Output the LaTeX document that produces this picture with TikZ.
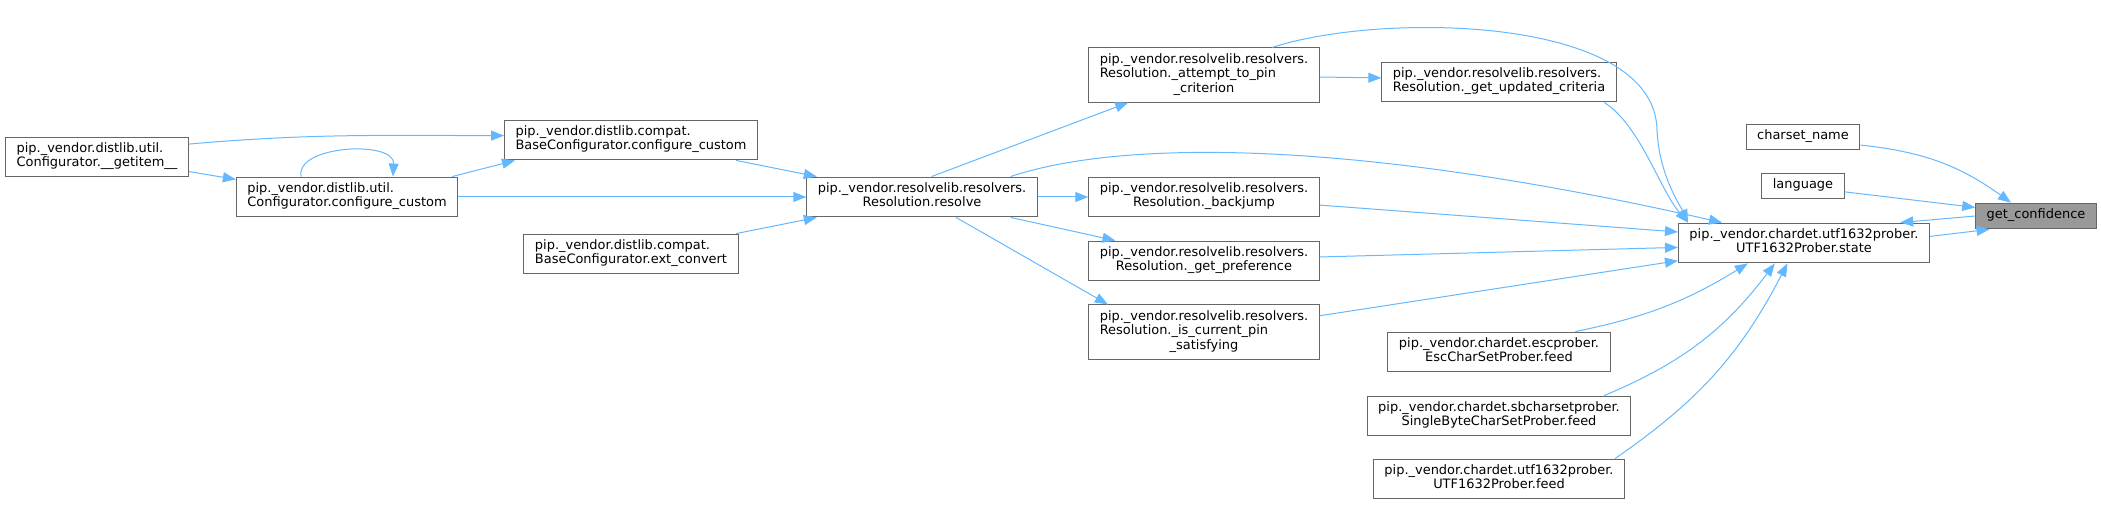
\documentclass[tikz,border=0pt]{standalone}
\usepackage{fontspec}
\setmainfont{DejaVu Sans}
\usetikzlibrary{arrows.meta}
\definecolor{edgeblue}{HTML}{63B8FF}
\definecolor{boxgray}{HTML}{666666}
\definecolor{hlgray}{HTML}{999999}
% label lines: first ones left, last one centred
\newcommand{\lbli}[1]{\begin{tabular}{@{}c@{}}#1\end{tabular}}
\newcommand{\lblii}[2]{\begin{tabular}{@{}l@{}}#1\\\multicolumn{1}{@{}c@{}}{#2}\end{tabular}}
\newcommand{\lbliii}[3]{\begin{tabular}{@{}l@{}}#1\\#2\\\multicolumn{1}{@{}c@{}}{#3}\end{tabular}}

\begin{document}
\begin{tikzpicture}[x=1bp, y=1bp, font=\fontsize{13}{14.3}\selectfont,
    box/.style={draw=boxgray, fill=white, line width=1bp, inner xsep=11bp, inner ysep=5.7bp},
    hl/.style={box, fill=hlgray},
    call/.style={draw=edgeblue, line width=1bp, -{Triangle[length=13bp,width=10bp]}}]
  \useasboundingbox (0,0) rectangle (2101,-505);
  \node[box] (getitem) at (97,-157) {\lblii{pip.\_vendor.distlib.util.}{Configurator.\_\_getitem\_\_}};
  \node[box] (cfgcustom) at (347,-197) {\lblii{pip.\_vendor.distlib.util.}{Configurator.configure\_custom}};
  \node[box] (basecustom) at (631,-140) {\lblii{pip.\_vendor.distlib.compat.}{BaseConfigurator.configure\_custom}};
  \node[box] (extconv) at (631,-254) {\lblii{pip.\_vendor.distlib.compat.}{BaseConfigurator.ext\_convert}};
  \node[box] (resolve) at (922,-197) {\lblii{pip.\_vendor.resolvelib.resolvers.}{Resolution.resolve}};
  \node[box] (attempt) at (1204,-75) {\lbliii{pip.\_vendor.resolvelib.resolvers.}{Resolution.\_attempt\_to\_pin}{\_criterion}};
  \node[box] (updated) at (1499,-82) {\lblii{pip.\_vendor.resolvelib.resolvers.}{Resolution.\_get\_updated\_criteria}};
  \node[box] (backjump) at (1204,-197) {\lblii{pip.\_vendor.resolvelib.resolvers.}{Resolution.\_backjump}};
  \node[box] (pref) at (1204,-261) {\lblii{pip.\_vendor.resolvelib.resolvers.}{Resolution.\_get\_preference}};
  \node[box] (current) at (1204,-332) {\lbliii{pip.\_vendor.resolvelib.resolvers.}{Resolution.\_is\_current\_pin}{\_satisfying}};
  \node[box] (state) at (1804,-243) {\lblii{pip.\_vendor.chardet.utf1632prober.}{UTF1632Prober.state}};
  \node[box] (charset) at (1803,-137) {\lbli{charset\_name}};
  \node[box] (lang) at (1803,-186) {\lbli{language}};
  \node[hl] (getconf) at (2036,-216) {\lbli{get\_confidence}};
  \node[box] (escfeed) at (1499,-352) {\lblii{pip.\_vendor.chardet.escprober.}{EscCharSetProber.feed}};
  \node[box] (sbfeed) at (1499,-416) {\lblii{pip.\_vendor.chardet.sbcharsetprober.}{SingleByteCharSetProber.feed}};
  \node[box] (utffeed) at (1499,-479) {\lblii{pip.\_vendor.chardet.utf1632prober.}{UTF1632Prober.feed}};
  % calls
  \draw[call] (getitem.8) to[out=5,in=180] (basecustom.178);
  \draw[call] (getitem.-9) -- (cfgcustom.171);
  \draw[call] (cfgcustom.156) .. controls (295,-145) and (395,-140) .. (cfgcustom.24);
  \draw[call] (cfgcustom.11) -- (basecustom.190);
  \draw[call] (cfgcustom.east) -- (resolve.west);
  \draw[call] (basecustom.-11) -- (resolve.169);
  \draw[call] (extconv.11) -- (resolve.191);
  \draw[call] (resolve.65) -- (attempt.200);
  \draw[call] (resolve.13) .. controls (1120,-140) and (1350,-138) .. (state.166);
  \draw[call] (resolve.east) -- (backjump.west);
  \draw[call] (resolve.-13) -- (pref.167);
  \draw[call] (resolve.-31) -- (current.164);
  \draw[call] (attempt.-1) -- (updated.178);
  \draw[call] (attempt.22) .. controls (1380,-12) and (1655,-15) .. (1657,-130)
    .. controls (1659,-175) and (1680,-205) .. (state.170);
  \draw[call] (updated.-11) .. controls (1640,-125) and (1660,-190) .. (state.170);
  \draw[call] (backjump.-4) -- (state.175);
  \draw[call] (pref.2) -- (state.182);
  \draw[call] (current.8) -- (state.188);
  \draw[call] (escfeed.15) to[bend right=10] (state.200);
  \draw[call] (sbfeed.11) to[bend right=15] (state.215);
  \draw[call] (utffeed.10) to[bend right=14] (state.231);
  \draw[call] (charset.-8) to[bend left=15] (getconf.152);
  \draw[call] (lang.-8) -- (getconf.172);
  \draw[call] (getconf.west) -- (state.12);
  \draw[call] (state.3) -- (getconf.196);
\end{tikzpicture}
\end{document}
